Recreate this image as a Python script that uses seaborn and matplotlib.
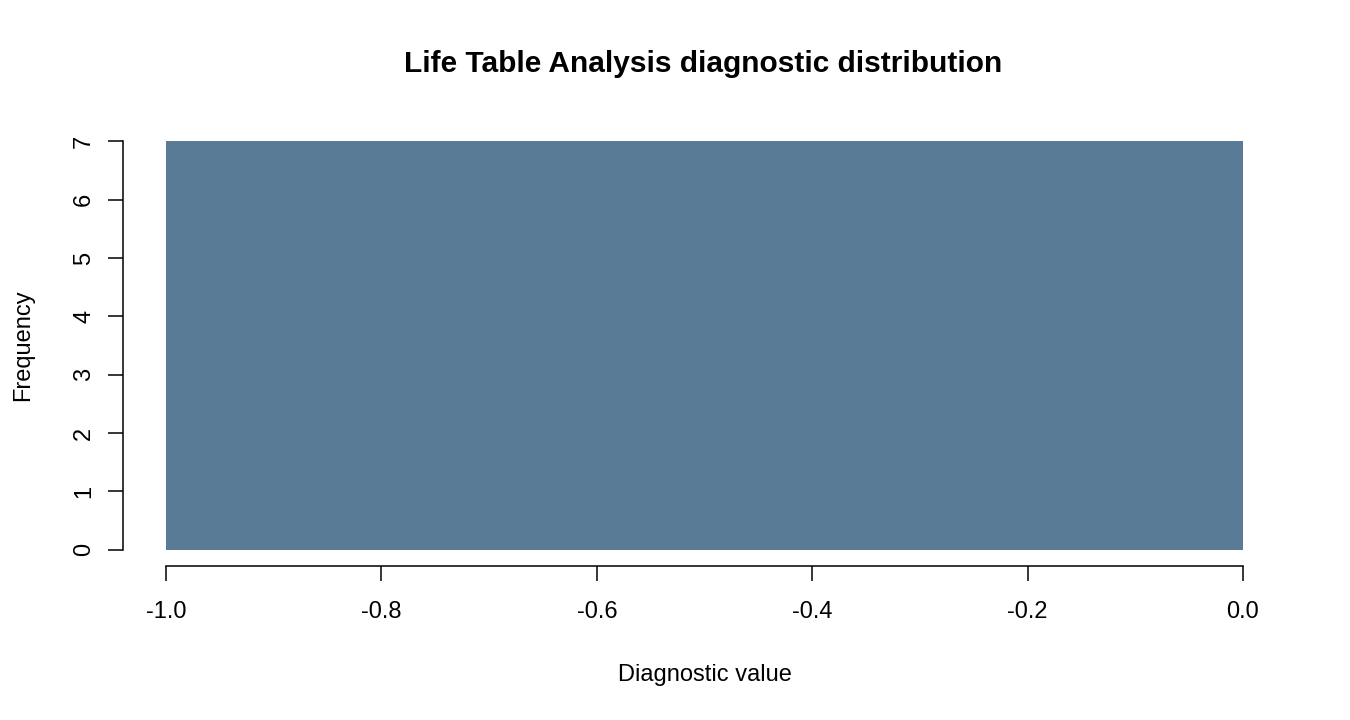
import matplotlib
matplotlib.use('Agg')
import matplotlib.pyplot as plt
import seaborn as sns

# one histogram bin
bin_edges = [-1.0, 0.0]
bin_mids = [-0.5]
bin_counts = [7]
x_ticks = [-1.0, -0.8, -0.6, -0.4, -0.2, 0.0]
x_tick_labels = ['-1.0', '-0.8', '-0.6', '-0.4', '-0.2', '0.0']
y_ticks = [0, 1, 2, 3, 4, 5, 6, 7]

sns.set_style('white')
plt.rcParams['font.family'] = ['Liberation Sans', 'DejaVu Sans']
plt.rcParams['text.color'] = 'black'
plt.rcParams['axes.labelcolor'] = 'black'

fig = plt.figure(figsize=(13.5, 7.2), dpi=100)
ax = fig.add_axes([123/1350, 1-566/720, (1286-123)/1350, (566-125)/720])

sns.histplot(x=bin_mids, weights=bin_counts, bins=bin_edges, ax=ax,
             color='#5a7b96', alpha=1, edgecolor='none', linewidth=0)

ax.set_xlim(-1.04, 0.04)
ax.set_ylim(-0.28, 7.28)
ax.set_xticks(x_ticks)
ax.set_xticklabels(x_tick_labels)
ax.set_yticks(y_ticks)
for lab in ax.get_yticklabels():
    lab.set_rotation(90)
    lab.set_va('center')

for s in ['top', 'right']:
    ax.spines[s].set_visible(False)
ax.spines['left'].set_bounds(0, 7)
ax.spines['bottom'].set_bounds(-1, 0)
for s in ['left', 'bottom']:
    ax.spines[s].set_color('black')
    ax.spines[s].set_linewidth(1.1)

ax.tick_params(axis='both', which='major', length=11, width=1.1, color='black',
               labelsize=17, labelcolor='black', direction='out', left=True, bottom=True)
ax.tick_params(axis='x', pad=14)
ax.tick_params(axis='y', pad=9)

ax.set_xlabel('Diagnostic value', fontsize=17, labelpad=30, color='black')
ax.set_ylabel('Frequency', fontsize=17, labelpad=28, color='black')
fig.text(703/1350, 1-64/720, 'Life Table Analysis diagnostic distribution',
         ha='center', va='center', fontsize=21.5, fontweight='bold', color='black')

fig.savefig('out.png', dpi=100)
